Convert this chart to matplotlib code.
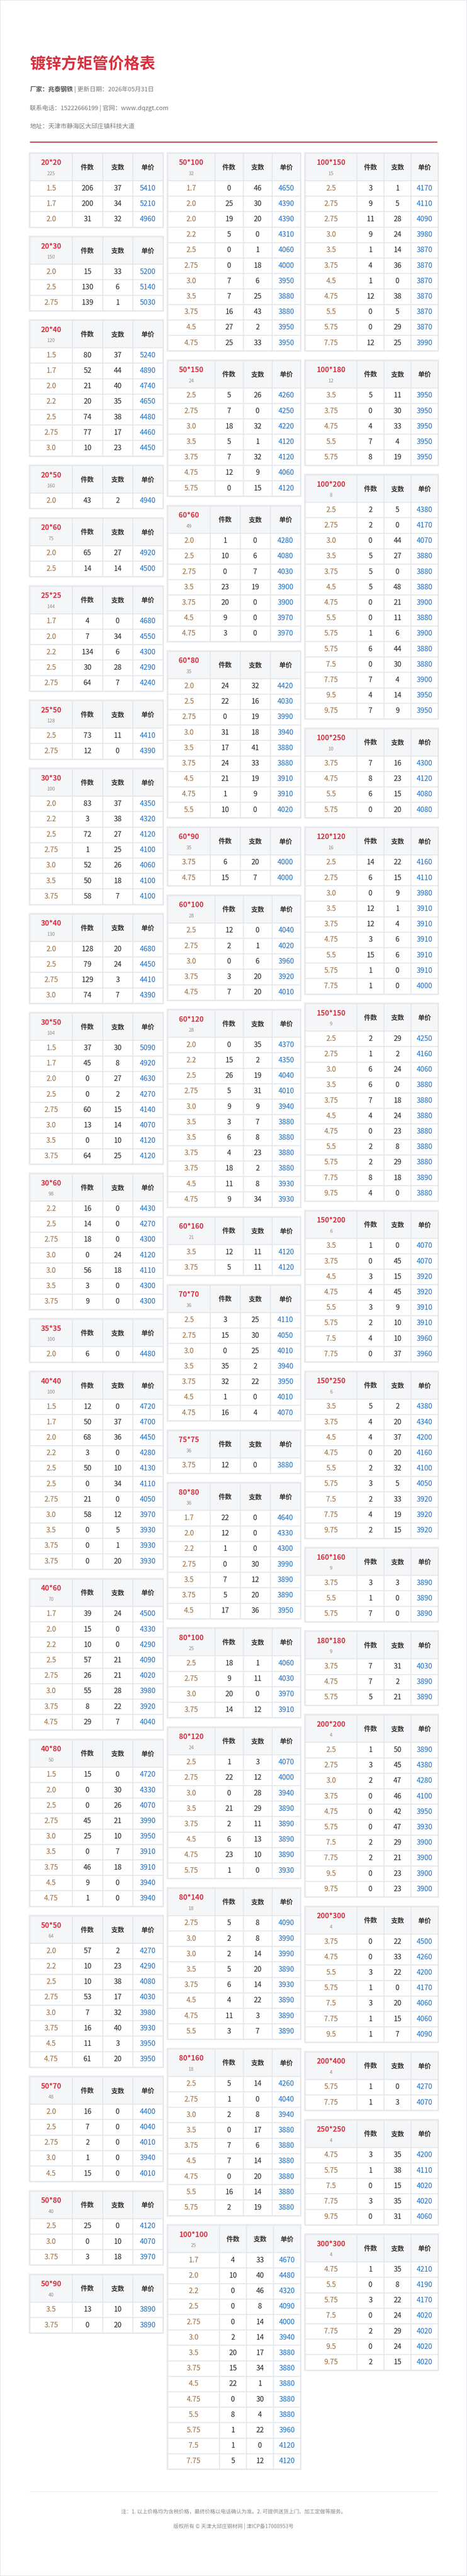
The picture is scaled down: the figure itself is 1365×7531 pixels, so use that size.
import matplotlib
matplotlib.use("Agg")
import matplotlib.pyplot as plt
from matplotlib.patches import Rectangle

plt.rcParams['font.family'] = ['Noto Sans CJK SC', 'DejaVu Sans']

W, H = 1365, 7531

TITLE = "镀锌方矩管价格表"
FACTORY = "厂家：兆泰钢铁"
DATE_TXT = " | 更新日期：2026年05月31日"
CONTACT = "联系电话：15222666199 | 官网：www.dqzgt.com"
ADDRESS = "地址：天津市静海区大邱庄镇科技大道"
NOTE = "注：1. 以上价格均为含税价格，最终价格以电话确认为准。2. 可提供送货上门、加工定做等服务。"
COPYRIGHT = "版权所有 © 天津大邱庄钢材网 | 津ICP备17008953号"
HEADERS = ["件数", "支数", "单价"]

# 每张小表: 规格, 总件数, 行 (壁厚, 件数, 支数, 单价)
COL1_SPECS = ["20*20", "20*30", "20*40", "20*50", "20*60", "25*25", "25*50", "30*30", "30*40",
              "30*50", "30*60", "35*35", "40*40", "40*60", "40*80", "50*50", "50*70", "50*80", "50*90"]
COL1_TOTALS = [225, 150, 120, 160, 75, 144, 128, 100, 130, 104, 98, 100, 100, 70, 50, 64, 48, 40, 40]
COL1_ROWS = [
    [("1.5", 206, 37, 5410), ("1.7", 200, 34, 5210), ("2.0", 31, 32, 4960)],
    [("2.0", 15, 33, 5200), ("2.5", 130, 6, 5140), ("2.75", 139, 1, 5030)],
    [("1.5", 80, 37, 5240), ("1.7", 52, 44, 4890), ("2.0", 21, 40, 4740), ("2.2", 20, 35, 4650),
     ("2.5", 74, 38, 4480), ("2.75", 77, 17, 4460), ("3.0", 10, 23, 4450)],
    [("2.0", 43, 2, 4940)],
    [("2.0", 65, 27, 4920), ("2.5", 14, 14, 4500)],
    [("1.7", 4, 0, 4680), ("2.0", 7, 34, 4550), ("2.2", 134, 6, 4300), ("2.5", 30, 28, 4290),
     ("2.75", 64, 7, 4240)],
    [("2.5", 73, 11, 4410), ("2.75", 12, 0, 4390)],
    [("2.0", 83, 37, 4350), ("2.2", 3, 38, 4320), ("2.5", 72, 27, 4120), ("2.75", 1, 25, 4100),
     ("3.0", 52, 26, 4060), ("3.5", 50, 18, 4100), ("3.75", 58, 7, 4100)],
    [("2.0", 128, 20, 4680), ("2.5", 79, 24, 4450), ("2.75", 129, 3, 4410), ("3.0", 74, 7, 4390)],
    [("1.5", 37, 30, 5090), ("1.7", 45, 8, 4920), ("2.0", 0, 27, 4630), ("2.5", 0, 2, 4270),
     ("2.75", 60, 15, 4140), ("3.0", 13, 14, 4070), ("3.5", 0, 10, 4120), ("3.75", 64, 25, 4120)],
    [("2.2", 16, 0, 4430), ("2.5", 14, 0, 4270), ("2.75", 18, 0, 4300), ("3.0", 0, 24, 4120),
     ("3.0", 56, 18, 4110), ("3.5", 3, 0, 4300), ("3.75", 9, 0, 4300)],
    [("2.0", 6, 0, 4480)],
    [("1.5", 12, 0, 4720), ("1.7", 50, 37, 4700), ("2.0", 68, 36, 4450), ("2.2", 3, 0, 4280),
     ("2.5", 50, 10, 4130), ("2.5", 0, 34, 4110), ("2.75", 21, 0, 4050), ("3.0", 58, 12, 3970),
     ("3.5", 0, 5, 3930), ("3.75", 0, 1, 3930), ("3.75", 0, 20, 3930)],
    [("1.7", 39, 24, 4500), ("2.0", 15, 0, 4330), ("2.2", 10, 0, 4290), ("2.5", 57, 21, 4090),
     ("2.75", 26, 21, 4020), ("3.0", 55, 28, 3980), ("3.75", 8, 22, 3920), ("4.75", 29, 7, 4040)],
    [("1.5", 15, 0, 4720), ("2.0", 0, 30, 4330), ("2.5", 0, 26, 4070), ("2.75", 45, 21, 3990),
     ("3.0", 25, 10, 3950), ("3.5", 0, 7, 3910), ("3.75", 46, 18, 3910), ("4.5", 9, 0, 3940),
     ("4.75", 1, 0, 3940)],
    [("2.0", 57, 2, 4270), ("2.2", 10, 23, 4290), ("2.5", 10, 38, 4080), ("2.75", 53, 17, 4030),
     ("3.0", 7, 32, 3980), ("3.75", 16, 40, 3930), ("4.5", 11, 3, 3950), ("4.75", 61, 20, 3950)],
    [("2.0", 16, 0, 4400), ("2.5", 7, 0, 4040), ("2.75", 2, 0, 4010), ("3.0", 1, 0, 3940),
     ("4.5", 15, 0, 4010)],
    [("2.5", 25, 0, 4120), ("3.0", 0, 10, 4070), ("3.75", 3, 18, 3970)],
    [("3.5", 13, 10, 3890), ("3.75", 0, 20, 3890)],
]

COL2_SPECS = ["50*100", "50*150", "60*60", "60*80", "60*90", "60*100", "60*120", "60*160",
              "70*70", "75*75", "80*80", "80*100", "80*120", "80*140", "80*160", "100*100"]
COL2_TOTALS = [32, 24, 49, 35, 35, 28, 28, 21, 36, 36, 36, 25, 24, 18, 18, 25]
COL2_ROWS = [
    [("1.7", 0, 46, 4650), ("2.0", 25, 30, 4390), ("2.0", 19, 20, 4390), ("2.2", 5, 0, 4310),
     ("2.5", 0, 1, 4060), ("2.75", 0, 18, 4000), ("3.0", 7, 6, 3950), ("3.5", 7, 25, 3880),
     ("3.75", 16, 43, 3880), ("4.5", 27, 2, 3950), ("4.75", 25, 33, 3950)],
    [("2.5", 5, 26, 4260), ("2.75", 7, 0, 4250), ("3.0", 18, 32, 4220), ("3.5", 5, 1, 4120),
     ("3.75", 7, 32, 4120), ("4.75", 12, 9, 4060), ("5.75", 0, 15, 4120)],
    [("2.0", 1, 0, 4280), ("2.5", 10, 6, 4080), ("2.75", 0, 7, 4030), ("3.5", 23, 19, 3900),
     ("3.75", 20, 0, 3900), ("4.5", 9, 0, 3970), ("4.75", 3, 0, 3970)],
    [("2.0", 24, 32, 4420), ("2.5", 22, 16, 4030), ("2.75", 0, 19, 3990), ("3.0", 31, 18, 3940),
     ("3.5", 17, 41, 3880), ("3.75", 24, 33, 3880), ("4.5", 21, 19, 3910), ("4.75", 1, 9, 3910),
     ("5.5", 10, 0, 4020)],
    [("3.75", 6, 20, 4000), ("4.75", 15, 7, 4000)],
    [("2.5", 12, 0, 4040), ("2.75", 2, 1, 4020), ("3.0", 0, 6, 3960), ("3.75", 3, 20, 3920),
     ("4.75", 7, 20, 4010)],
    [("2.0", 0, 35, 4370), ("2.2", 15, 2, 4350), ("2.5", 26, 19, 4040), ("2.75", 5, 31, 4010),
     ("3.0", 9, 9, 3940), ("3.5", 3, 7, 3880), ("3.5", 6, 8, 3880), ("3.75", 4, 23, 3880),
     ("3.75", 18, 2, 3880), ("4.5", 11, 8, 3930), ("4.75", 9, 34, 3930)],
    [("3.5", 12, 11, 4120), ("3.75", 5, 11, 4120)],
    [("2.5", 3, 25, 4110), ("2.75", 15, 30, 4050), ("3.0", 0, 25, 4010), ("3.5", 35, 2, 3940),
     ("3.75", 32, 22, 3950), ("4.5", 1, 0, 4010), ("4.75", 16, 4, 4070)],
    [("3.75", 12, 0, 3880)],
    [("1.7", 22, 0, 4640), ("2.0", 12, 0, 4330), ("2.2", 1, 0, 4300), ("2.75", 0, 30, 3990),
     ("3.5", 7, 12, 3890), ("3.75", 5, 20, 3890), ("4.5", 17, 36, 3950)],
    [("2.5", 18, 1, 4060), ("2.75", 9, 11, 4030), ("3.0", 20, 0, 3970), ("3.75", 14, 12, 3910)],
    [("2.5", 1, 3, 4070), ("2.75", 22, 12, 4000), ("3.0", 0, 28, 3940), ("3.5", 21, 29, 3890),
     ("3.75", 2, 11, 3890), ("4.5", 6, 13, 3890), ("4.75", 23, 10, 3890), ("5.75", 1, 0, 3930)],
    [("2.75", 5, 8, 4090), ("3.0", 2, 8, 3990), ("3.0", 2, 14, 3990), ("3.5", 5, 20, 3890),
     ("3.75", 6, 14, 3930), ("4.5", 4, 22, 3890), ("4.75", 11, 3, 3890), ("5.5", 3, 7, 3890)],
    [("2.5", 5, 14, 4260), ("2.75", 1, 0, 4040), ("3.0", 2, 8, 3940), ("3.5", 0, 17, 3880),
     ("3.75", 7, 6, 3880), ("4.5", 7, 14, 3880), ("4.75", 0, 20, 3880), ("5.5", 16, 14, 3880),
     ("5.75", 2, 19, 3880)],
    [("1.7", 4, 33, 4670), ("2.0", 10, 40, 4480), ("2.2", 0, 46, 4320), ("2.5", 0, 8, 4090),
     ("2.75", 0, 14, 4000), ("3.0", 2, 14, 3940), ("3.5", 20, 17, 3880), ("3.75", 15, 34, 3880),
     ("4.5", 22, 1, 3880), ("4.75", 0, 30, 3880), ("5.5", 8, 4, 3880), ("5.75", 1, 22, 3960),
     ("7.5", 1, 0, 4120), ("7.75", 5, 12, 4120)],
]

COL3_SPECS = ["100*150", "100*180", "100*200", "100*250", "120*120", "150*150", "150*200",
              "150*250", "160*160", "180*180", "200*200", "200*300", "200*400", "250*250", "300*300"]
COL3_TOTALS = [15, 12, 8, 10, 16, 9, 6, 6, 9, 9, 4, 4, 4, 4, 4]
COL3_ROWS = [
    [("2.5", 3, 1, 4170), ("2.75", 9, 5, 4110), ("2.75", 11, 28, 4090), ("3.0", 9, 24, 3980),
     ("3.5", 1, 14, 3870), ("3.75", 4, 36, 3870), ("4.5", 1, 0, 3870), ("4.75", 12, 38, 3870),
     ("5.5", 0, 5, 3870), ("5.75", 0, 29, 3870), ("7.75", 12, 25, 3990)],
    [("3.5", 5, 11, 3950), ("3.75", 0, 30, 3950), ("4.75", 4, 33, 3950), ("5.5", 7, 4, 3950),
     ("5.75", 8, 19, 3950)],
    [("2.5", 2, 5, 4380), ("2.75", 2, 0, 4170), ("3.0", 0, 44, 4070), ("3.5", 5, 27, 3880),
     ("3.75", 5, 0, 3880), ("4.5", 5, 48, 3880), ("4.75", 0, 21, 3900), ("5.5", 0, 11, 3880),
     ("5.75", 1, 6, 3900), ("5.75", 6, 44, 3880), ("7.5", 0, 30, 3880), ("7.75", 7, 4, 3900),
     ("9.5", 4, 14, 3950), ("9.75", 7, 9, 3950)],
    [("3.75", 7, 16, 4300), ("4.75", 8, 23, 4120), ("5.5", 6, 15, 4080), ("5.75", 0, 20, 4080)],
    [("2.5", 14, 22, 4160), ("2.75", 6, 15, 4110), ("3.0", 0, 9, 3980), ("3.5", 12, 1, 3910),
     ("3.75", 12, 4, 3910), ("4.75", 3, 6, 3910), ("5.5", 15, 6, 3910), ("5.75", 1, 0, 3910),
     ("7.75", 1, 0, 4000)],
    [("2.5", 2, 29, 4250), ("2.75", 1, 2, 4160), ("3.0", 6, 24, 4060), ("3.5", 6, 0, 3880),
     ("3.75", 7, 18, 3880), ("4.5", 4, 24, 3880), ("4.75", 0, 23, 3880), ("5.5", 2, 8, 3880),
     ("5.75", 2, 29, 3880), ("7.75", 8, 18, 3890), ("9.75", 4, 0, 3880)],
    [("3.5", 1, 0, 4070), ("3.75", 0, 45, 4070), ("4.5", 3, 15, 3920), ("4.75", 4, 45, 3920),
     ("5.5", 3, 9, 3910), ("5.75", 2, 10, 3910), ("7.5", 4, 10, 3960), ("7.75", 0, 37, 3960)],
    [("3.5", 5, 2, 4380), ("3.75", 4, 20, 4340), ("4.5", 4, 37, 4200), ("4.75", 0, 20, 4160),
     ("5.5", 2, 32, 4100), ("5.75", 3, 5, 4050), ("7.5", 2, 33, 3920), ("7.75", 4, 19, 3920),
     ("9.75", 2, 15, 3920)],
    [("3.75", 3, 3, 3890), ("5.5", 1, 0, 3890), ("5.75", 7, 0, 3890)],
    [("3.75", 7, 31, 4030), ("4.75", 7, 2, 3890), ("5.75", 5, 21, 3890)],
    [("2.5", 1, 50, 3890), ("2.75", 3, 45, 4380), ("3.0", 2, 47, 4280), ("3.75", 0, 46, 4100),
     ("4.75", 0, 42, 3950), ("5.75", 0, 47, 3930), ("7.5", 2, 29, 3900), ("7.75", 2, 21, 3900),
     ("9.5", 0, 23, 3900), ("9.75", 0, 23, 3900)],
    [("3.75", 0, 22, 4500), ("4.75", 0, 33, 4260), ("5.5", 3, 22, 4200), ("5.75", 1, 0, 4170),
     ("7.5", 3, 20, 4060), ("7.75", 1, 15, 4060), ("9.5", 1, 7, 4090)],
    [("5.75", 1, 0, 4270), ("7.75", 1, 3, 4070)],
    [("4.75", 3, 35, 4200), ("5.75", 1, 38, 4110), ("7.5", 0, 15, 4020), ("7.75", 3, 35, 4020),
     ("9.75", 0, 31, 4060)],
    [("4.75", 1, 35, 4210), ("5.5", 0, 8, 4190), ("5.75", 3, 22, 4170), ("7.5", 0, 24, 4020),
     ("7.75", 2, 29, 4020), ("9.5", 0, 24, 4020), ("9.75", 2, 15, 4020)],
]

RED = "#d8303f"
BORDER = "#e4e7eb"
HEAD_BG = "#f5f6f8"
THICK_C = "#9b6b3a"
PRICE_C = "#1a6fc7"

HEAD_H, ROW_H, GAP, TOP = 80, 45.2, 28.5, 448
COL_X = [(87, 476), (490, 878), (892, 1280)]

fig = plt.figure(figsize=(W / 100, H / 100), dpi=100)
ax = fig.add_axes([0, 0, 1, 1])
ax.set_xlim(0, W)
ax.set_ylim(H, 0)
ax.axis("off")

# 页面外框
ax.add_patch(Rectangle((1, 1), W - 2, H - 2, fill=False, ec="#e8eaee", lw=1.5))

ax.text(87, 188, TITLE, color=RED, fontsize=33, fontweight="bold", va="center")
t = ax.text(87, 262, FACTORY, color="#555555", fontsize=13, fontweight="bold", va="center")
fig.canvas.draw()
bb = t.get_window_extent()
ax.text(87 + bb.width, 262, DATE_TXT, color="#777777", fontsize=13, va="center")
ax.text(87, 317, CONTACT, color="#777777", fontsize=13, va="center")
ax.text(87, 370, ADDRESS, color="#777777", fontsize=13, va="center")
ax.plot([87, 1278], [415, 415], color="#c9404b", lw=2.5, solid_capstyle="butt")


def draw_table(x0, x1, y0, spec, total, rows):
    w = x1 - x0
    frac = {5: 0.32, 6: 0.355}.get(len(spec), 0.39)
    xs = [x0, x0 + w * frac]
    step = (x1 - xs[1]) / 3
    xs += [xs[1] + step * k for k in (1, 2, 3)]
    h = HEAD_H + ROW_H * len(rows)
    ax.add_patch(Rectangle((x0 - 2, y0 - 2), w + 4, h + 4, fc="white", ec="#e9ebef", lw=1.5))
    for c in range(4):
        ax.add_patch(Rectangle((xs[c], y0), xs[c + 1] - xs[c], HEAD_H, fc=HEAD_BG, ec=BORDER, lw=2))
    cx0 = (xs[0] + xs[1]) / 2
    ax.text(cx0, y0 + 28, spec, color=RED, fontsize=15, fontweight="bold", ha="center", va="center")
    ax.text(cx0, y0 + 60, str(total), color="#888888", fontsize=10, ha="center", va="center")
    for c, hd in enumerate(HEADERS):
        ax.text((xs[c + 1] + xs[c + 2]) / 2, y0 + 42, hd, color="#333333", fontsize=14,
                fontweight="bold", ha="center", va="center")
    for r, (th, pcs, sticks, price) in enumerate(rows):
        ry = y0 + HEAD_H + ROW_H * r
        vals = [(th, THICK_C), (str(pcs), "#222222"), (str(sticks), "#222222"), (str(price), PRICE_C)]
        for c, (v, col) in enumerate(vals):
            ax.add_patch(Rectangle((xs[c], ry), xs[c + 1] - xs[c], ROW_H, fc="white", ec=BORDER, lw=2))
            ax.text((xs[c] + xs[c + 1]) / 2, ry + ROW_H / 2, v, color=col, fontsize=15,
                    ha="center", va="center")
    return h


for (x0, x1), specs, totals, rowsets in zip(COL_X, [COL1_SPECS, COL2_SPECS, COL3_SPECS],
                                            [COL1_TOTALS, COL2_TOTALS, COL3_TOTALS],
                                            [COL1_ROWS, COL2_ROWS, COL3_ROWS]):
    y = TOP
    for spec, total, rows in zip(specs, totals, rowsets):
        y += draw_table(x0, x1, y, spec, total, rows) + GAP

ax.plot([87, 1278], [7284, 7284], color="#eceef1", lw=1.5)
ax.text(W / 2, 7343, NOTE, color="#888888", fontsize=11, ha="center", va="center")
ax.text(W / 2, 7386, COPYRIGHT, color="#888888", fontsize=11, ha="center", va="center")

fig.savefig("out.png", dpi=100, facecolor="white")
